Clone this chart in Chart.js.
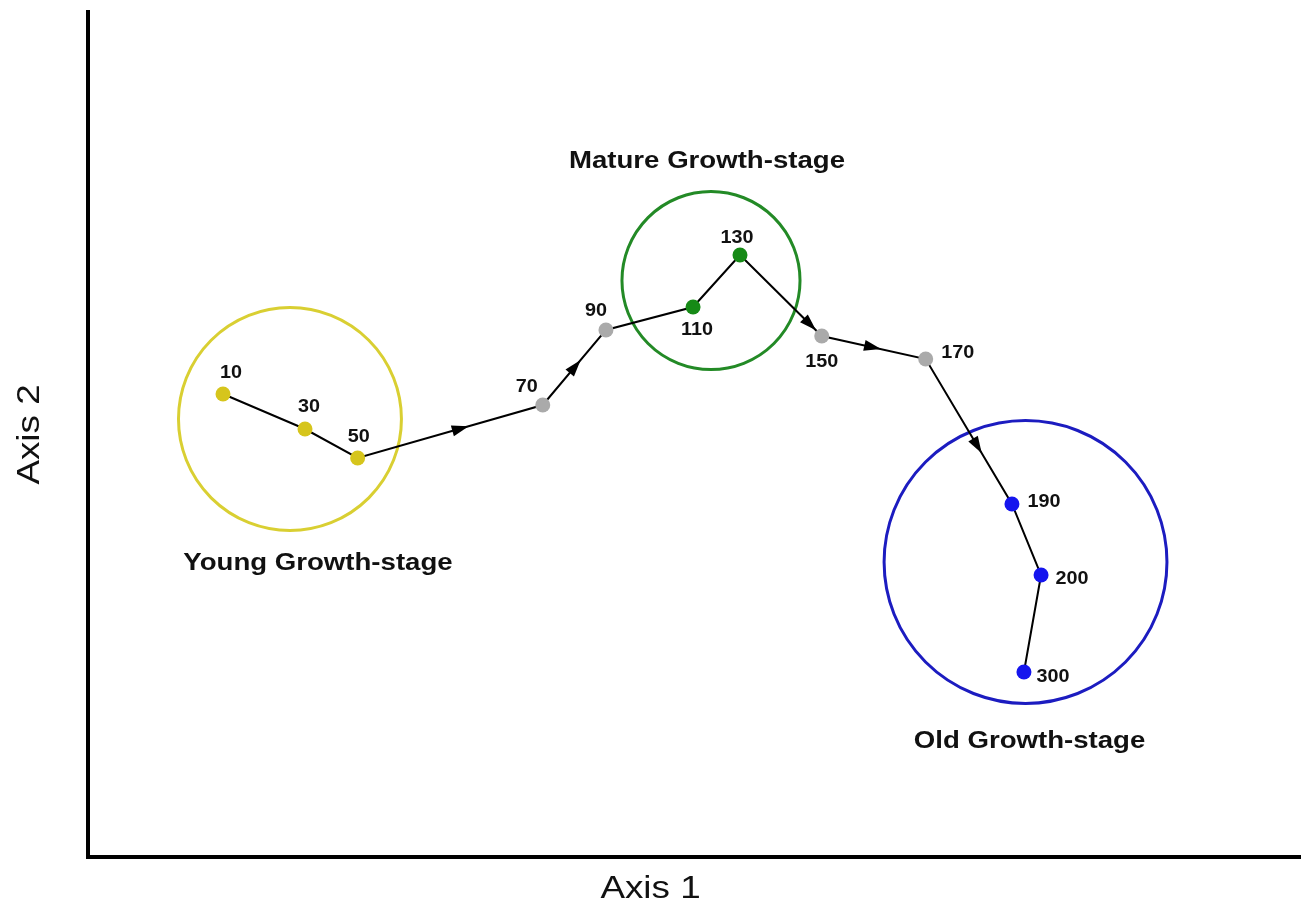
<!DOCTYPE html>
<html>
<head>
<meta charset="utf-8">
<title>Growth-stage trajectory</title>
<script src="https://cdn.jsdelivr.net/npm/chart.js@4/dist/chart.umd.min.js"></script>
<style>
  html, body { margin: 0; padding: 0; background: #fff; }
  #wrap { width: 1301px; height: 913px; }
</style>
</head>
<body>
<div id="wrap"><canvas id="chart" width="1301" height="913"></canvas></div>
<script>
// stand ages along the trajectory, with their ordination scores
const ages  = [10, 30, 50, 70, 90, 110, 130, 150, 170, 190, 200, 300];
const axis1 = [11.13, 17.89, 22.23, 37.49, 42.70, 49.88, 53.75, 60.49, 69.06, 76.17, 78.57, 77.16];
const axis2 = [54.79, 50.65, 47.22, 53.49, 62.37, 65.09, 71.24, 61.66, 58.93, 41.78, 33.37, 21.89];
const stage = ['young', 'young', 'young', 'between', 'between', 'mature', 'mature',
               'between', 'between', 'old', 'old', 'old'];

// growth-stage groups (circle centre and radius in axis units)
const groupKeys    = ['young', 'mature', 'old'];
const groupNames   = ['Young Growth-stage', 'Mature Growth-stage', 'Old Growth-stage'];
const groupCenterX = [16.65, 51.36, 77.29];
const groupCenterY = [51.83, 68.22, 34.91];
const groupRadius  = [9.19, 7.34, 11.66];
const groupLabelX  = [18.96, 51.03, 77.62];
const groupLabelY  = [34.67, 82.25, 13.61];

// ---- styles ----
const pointColor = { young: '#d6c51c', mature: '#168a16', old: '#1515ee', between: '#aaaaaa' };
const ringColor  = { young: '#d9cf32', mature: '#238a26', old: '#1c1cc0' };
const FONT = '"Liberation Sans", Arial, sans-serif';

// label offset (px) from each point
const labelOffset = [[8, -21], [4, -22], [1, -21], [-16, -18], [-10, -19], [4, 23],
                     [-3, -17], [0, 26], [32, -6], [32, -2], [31, 4], [29, 5]];
// segment index -> where along it the arrowhead tip sits
const arrowAt = { 2: 0.6, 3: 0.6, 6: 0.93, 7: 0.57, 8: 0.65 };

function drawText(ctx, text, x, y, font, sx, angle) {
  ctx.save();
  ctx.translate(x, y);
  ctx.rotate(angle || 0);
  ctx.scale(sx, 1);
  ctx.font = font;
  ctx.fillStyle = '#111';
  ctx.textAlign = 'center';
  ctx.textBaseline = 'middle';
  ctx.fillText(text, 0, 0);
  ctx.restore();
}

const decorations = {
  id: 'decorations',
  beforeDatasetsDraw(chart) {
    const ctx = chart.ctx, xs = chart.scales.x, ys = chart.scales.y;
    ctx.save();
    groupKeys.forEach((k, i) => {
      const cx = xs.getPixelForValue(groupCenterX[i]);
      const cy = ys.getPixelForValue(groupCenterY[i]);
      const r = xs.getPixelForValue(groupCenterX[i] + groupRadius[i]) - cx;
      ctx.beginPath();
      ctx.arc(cx, cy, r, 0, Math.PI * 2);
      ctx.lineWidth = 3;
      ctx.strokeStyle = ringColor[k];
      ctx.stroke();
    });
    ctx.restore();
  },
  afterDatasetsDraw(chart) {
    const ctx = chart.ctx, xs = chart.scales.x, ys = chart.scales.y;
    const px = axis1.map(v => xs.getPixelForValue(v));
    const py = axis2.map(v => ys.getPixelForValue(v));

    // arrowheads
    ctx.save();
    ctx.fillStyle = '#000';
    Object.keys(arrowAt).forEach(key => {
      const i = +key, t = arrowAt[key];
      const dx = px[i + 1] - px[i], dy = py[i + 1] - py[i];
      const len = Math.hypot(dx, dy), ux = dx / len, uy = dy / len;
      const tx = px[i] + dx * t, ty = py[i] + dy * t;
      const bx = tx - ux * 17, by = ty - uy * 17;
      ctx.beginPath();
      ctx.moveTo(tx, ty);
      ctx.lineTo(bx - uy * 5.5, by + ux * 5.5);
      ctx.lineTo(bx + uy * 5.5, by - ux * 5.5);
      ctx.closePath();
      ctx.fill();
    });
    ctx.restore();

    // point labels
    ages.forEach((a, i) => {
      drawText(ctx, String(a), px[i] + labelOffset[i][0], py[i] + labelOffset[i][1],
               'bold 18px ' + FONT, 1.1, 0);
    });

    // group labels
    groupNames.forEach((name, i) => {
      drawText(ctx, name, xs.getPixelForValue(groupLabelX[i]), ys.getPixelForValue(groupLabelY[i]),
               'bold 23px ' + FONT, 1.2, 0);
    });

    // axis titles
    drawText(ctx, 'Axis 1', chart.width / 2, 889, '32px ' + FONT, 1.15, 0);
    drawText(ctx, 'Axis 2', 30, (chart.chartArea.top + chart.chartArea.bottom) / 2,
             '32px ' + FONT, 1.15, -Math.PI / 2);
  }
};

new Chart(document.getElementById('chart'), {
  type: 'scatter',
  data: {
    datasets: [{
      label: 'Trajectory',
      data: ages.map((a, i) => ({ x: axis1[i], y: axis2[i] })),
      showLine: true,
      borderColor: '#000',
      borderWidth: 2,
      pointRadius: 7.5,
      pointBorderWidth: 0,
      pointBackgroundColor: stage.map(s => pointColor[s]),
      clip: false
    }]
  },
  options: {
    responsive: false,
    animation: false,
    layout: { autoPadding: false, padding: { top: 12, right: 0, left: 0, bottom: 0 } },
    plugins: { legend: { display: false }, tooltip: { enabled: false } },
    scales: {
      x: {
        type: 'linear', min: 0, max: 100,
        ticks: { display: false },
        grid: { display: false },
        border: { display: true, color: '#000', width: 4 },
        afterFit(s) { s.height = 56; }
      },
      y: {
        type: 'linear', min: 0, max: 100,
        ticks: { display: false },
        grid: { display: false },
        border: { display: true, color: '#000', width: 4 },
        afterFit(s) { s.width = 88; }
      }
    }
  },
  plugins: [decorations]
});
</script>
</body>
</html>
